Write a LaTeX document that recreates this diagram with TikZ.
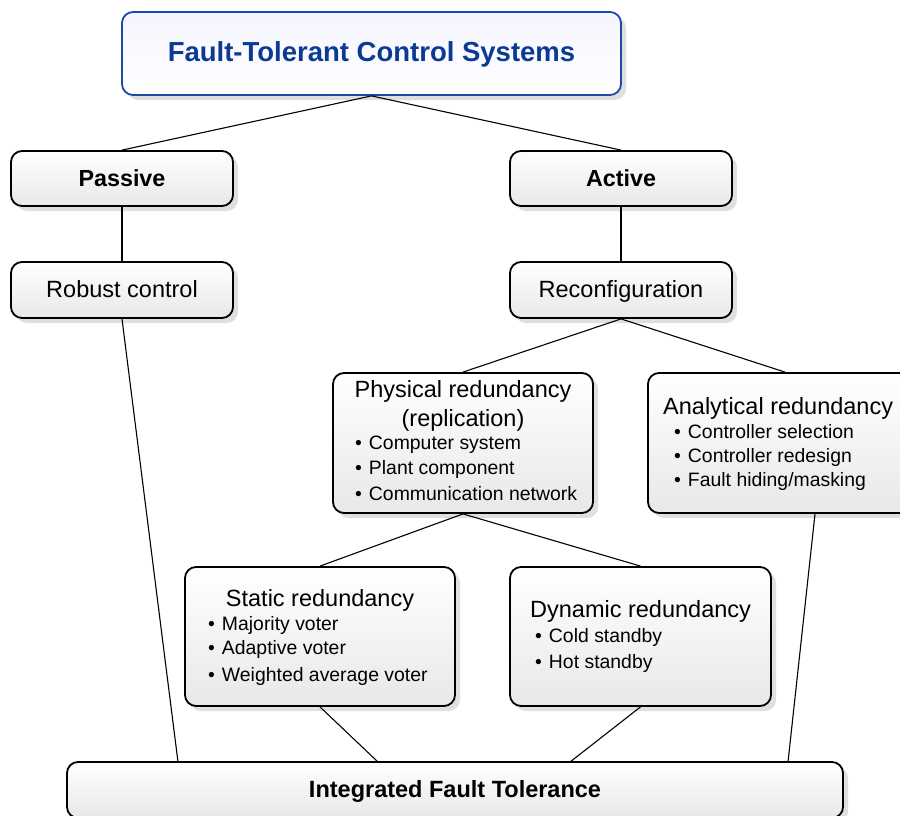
\documentclass[tikz,border=0pt]{standalone}
\usepackage{fontspec}
\setmainfont{Liberation Sans}
\usetikzlibrary{shadows,calc}
\definecolor{titleblue}{HTML}{0B3A94}
\definecolor{titleedge}{HTML}{1C4AA6}
\newcommand{\bul}{\textbullet\hspace{7pt}}
\tikzset{
  box/.style={draw=black, line width=1.8pt, rounded corners=11pt,
    top color=white, bottom color=black!9, inner sep=0pt,
    drop shadow={shadow xshift=5pt, shadow yshift=-5pt, fill=black!18, opacity=0.7}},
  tbox/.style={box, draw=titleedge, top color=blue!4, bottom color=white},
  conn/.style={draw=black, line width=1.1pt},
  big/.style={font=\fontsize{23.5}{27}\selectfont, inner sep=0pt, text height=16.8pt, text depth=0pt},
  bigb/.style={font=\fontsize{23.3}{27}\selectfont\bfseries, inner sep=0pt, text height=16.7pt, text depth=0pt},
  item/.style={font=\fontsize{19.4}{23}\selectfont, inner sep=0pt, anchor=west, text height=13.9pt, text depth=0pt},
}
\begin{document}
\begin{tikzpicture}[x=1pt,y=-1pt]
\useasboundingbox (0,0) rectangle (900,816);
\clip (0,0) rectangle (900,816);
% boxes
\node[tbox, minimum width=499pt, minimum height=83pt] (fts) at (371.5,53.5) {};
\node[box, minimum width=222pt, minimum height=55pt] (pas) at (122,178.5) {};
\node[box, minimum width=222pt, minimum height=55pt] (act) at (621,178.5) {};
\node[box, minimum width=222pt, minimum height=56pt] (rob) at (122,290) {};
\node[box, minimum width=222pt, minimum height=56pt] (rec) at (621,290) {};
\node[box, minimum width=260pt, minimum height=140pt] (phy) at (463,443) {};
\node[box, minimum width=274pt, minimum height=140pt] (ana) at (785,443) {};
\node[box, minimum width=270pt, minimum height=139pt] (sta) at (320,636.5) {};
\node[box, minimum width=261pt, minimum height=139pt] (dyn) at (640.5,636.5) {};
\node[box, minimum width=776pt, minimum height=56pt] (ift) at (455,790) {};
% connector attach points
\coordinate (anaB) at ([xshift=30pt]ana.south);
\coordinate (iftA) at (178,762);
\coordinate (iftB) at (378,762);
\coordinate (iftC) at (570,762);
\coordinate (iftD) at (788,762);
% connectors
\draw[conn] (fts.south) -- (pas.north);
\draw[conn] (fts.south) -- (act.north);
\draw[conn] (pas.south) -- (rob.north);
\draw[conn] (act.south) -- (rec.north);
\draw[conn] (rec.south) -- (phy.north);
\draw[conn] (rec.south) -- (ana.north);
\draw[conn] (phy.south) -- (sta.north);
\draw[conn] (phy.south) -- (dyn.north);
\draw[conn] (rob.south) -- (iftA);
\draw[conn] (sta.south) -- (iftB);
\draw[conn] (dyn.south) -- (iftC);
\draw[conn] (anaB) -- (iftD);
% texts
\node[font=\fontsize{27.5}{32}\selectfont\bfseries, text=titleblue, inner sep=0pt, text height=19.7pt, text depth=0pt] (tfts) at (371.5,52) {Fault-Tolerant Control Systems};
\node[bigb] (tpas) at (122,178) {Passive};
\node[bigb] (tact) at (621,178) {Active};
\node[big] (trob) at (122,289) {Robust control};
\node[big] (trec) at (621,289) {Reconfiguration};
\node[big] (tphy1) at (463,389) {Physical redundancy};
\node[big] (tphy2) at (463,418) {(replication)};
\node[item] (p1) at (355,443) {\bul Computer system};
\node[item] (p2) at (355,468) {\bul Plant component};
\node[item] (p3) at (355,494) {\bul Communication network};
\node[big, anchor=west] (tana) at (663,406) {Analytical redundancy};
\node[item] (a1) at (674,432) {\bul Controller selection};
\node[item] (a2) at (674,456) {\bul Controller redesign};
\node[item] (a3) at (674,480) {\bul Fault hiding/masking};
\node[big] (tsta) at (320,598) {Static redundancy};
\node[item] (s1) at (208,624) {\bul Majority voter};
\node[item] (s2) at (208,648) {\bul Adaptive voter};
\node[item] (s3) at (208,675) {\bul Weighted average voter};
\node[big, anchor=west] (tdyn) at (530,609) {Dynamic redundancy};
\node[item] (d1) at (535,636) {\bul Cold standby};
\node[item] (d2) at (535,662) {\bul Hot standby};
\node[bigb, font=\fontsize{23.5}{27}\selectfont\bfseries] (tift) at (455,789) {Integrated Fault Tolerance};
\end{tikzpicture}
\end{document}
